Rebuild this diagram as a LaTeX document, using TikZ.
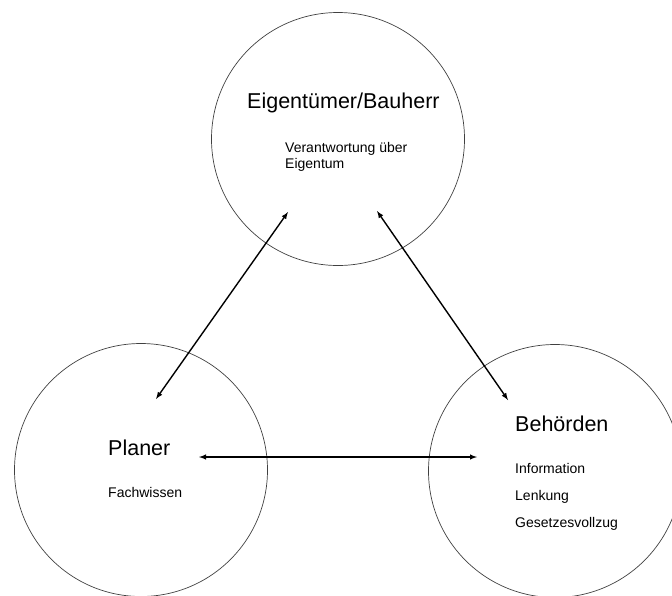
\documentclass[tikz,border=0pt]{standalone}
\usepackage{fontspec}
\setmainfont{Liberation Sans}
\usetikzlibrary{calc}

\begin{document}
\begin{tikzpicture}[
    x=1pt, y=-1pt,
    kreis/.style={circle, draw=black!75, line width=0.7pt, inner sep=0pt, minimum size=253pt},
    titel/.style={anchor=base west, inner sep=0pt, font=\fontsize{21.5}{26}\selectfont},
    info/.style={anchor=base west, inner sep=0pt, font=\fontsize{14}{16}\selectfont},
    pfeil/.style={<->, >=latex, line width=1.4pt}
]
\useasboundingbox (0,0) rectangle (672,595);

% Kreise
    \node[kreis] (eigen) at (338,139) {};
    \node[kreis] (planer) at (141,470) {};
    \node[kreis] (amt) at (555,471) {};

% --- Eigentuemer
    \node[titel] (eigen-t) at (247,108) {Eigentümer/Bauherr};
    \node[info] (eigen-1) at (285,152) {Verantwortung über};
    \node[info] (eigen-2) at (285,168) {Eigentum};

% --- Planer
    \node[titel] (planer-t) at (108,455) {Planer};
    \node[info] (planer-1) at (108,497) {Fachwissen};

% --- Behoerden
    \node[titel] (amt-t) at (515,431) {Behörden};
    \node[info] (amt-1) at (515,473) {Information};
    \node[info] (amt-2) at (515,500) {Lenkung};
    \node[info] (amt-3) at (515,527) {Gesetzesvollzug};

% Pfeilenden
    \coordinate (ep) at ($(eigen.center)+(-50,73)$);
    \coordinate (pe) at ($(planer.center)+(15,-71)$);
    \coordinate (ea) at ($(eigen.center)+(39,72)$);
    \coordinate (ae) at ($(amt.center)+(-47,-71)$);
    \coordinate (pa) at ($(planer.center)+(58,-13)$);
    \coordinate (ap) at ($(amt.center)+(-78,-14)$);

    \draw[pfeil] (ep) -- (pe);
    \draw[pfeil] (ea) -- (ae);
    \draw[pfeil] (pa) -- (ap);
\end{tikzpicture}
\end{document}
